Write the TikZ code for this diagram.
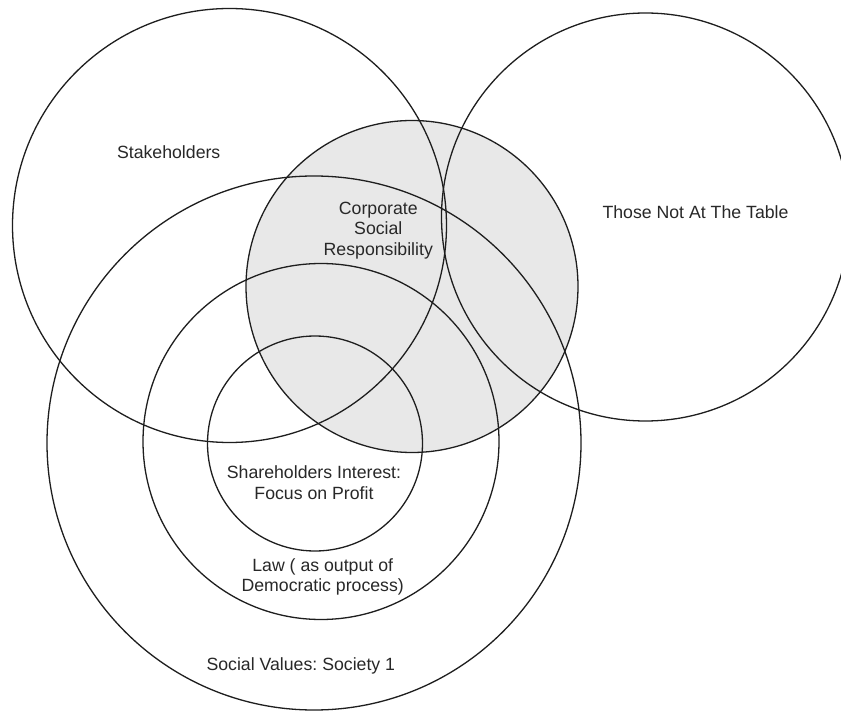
\documentclass[tikz,border=0pt]{standalone}
\usepackage{fontspec}
\setmainfont{Liberation Sans}
\frenchspacing
\definecolor{csrgray}{RGB}{232,232,232}
\definecolor{inkline}{RGB}{30,30,30}
\definecolor{inktext}{RGB}{40,40,40}
\begin{document}
\begin{tikzpicture}[x=1pt,y=-1pt,
  ring/.style={circle, draw=inkline, line width=1.3pt, inner sep=0pt, outer sep=0pt},
  lbl/.style={font=\fontsize{17.7}{20.6}\selectfont\frenchspacing, text=inktext, align=center, inner sep=0pt, anchor=base}]
\useasboundingbox (0,0) rectangle (841,711);
\clip (0,0) rectangle (841,711);
\fill[white] (0,0) rectangle (841,711);
% circles
\node[ring, fill=csrgray, minimum size=332pt] (csr) at (412,286.5) {};
\node[ring, minimum size=434pt] (stake) at (229.5,225.5) {};
\node[ring, minimum size=408pt] (table) at (645.5,217) {};
\node[ring, minimum size=534pt] (society) at (314,443) {};
\node[ring, minimum size=356pt] (law) at (321,441.5) {};
\node[ring, minimum size=215pt] (share) at (315,443.5) {};
% labels (base = baseline of last line)
\node[lbl] (tstake) at (168.7,159) {Stakeholders};
\node[lbl] (ttable) at (695.5,218.3) {Those Not At The Table};
\node[lbl] (tcsr) at (378.3,255.5) {Corporate\\Social\\Responsibility};
\node[lbl] (tshare) at (314,499) {Shareholders Interest:\\Focus on Profit};
\node[lbl] (tlaw) at (322.7,591.7) {Law ( as output of\\Democratic process)};
\node[lbl] (tsoc) at (300.8,670) {Social Values: Society 1};
\end{tikzpicture}
\end{document}
